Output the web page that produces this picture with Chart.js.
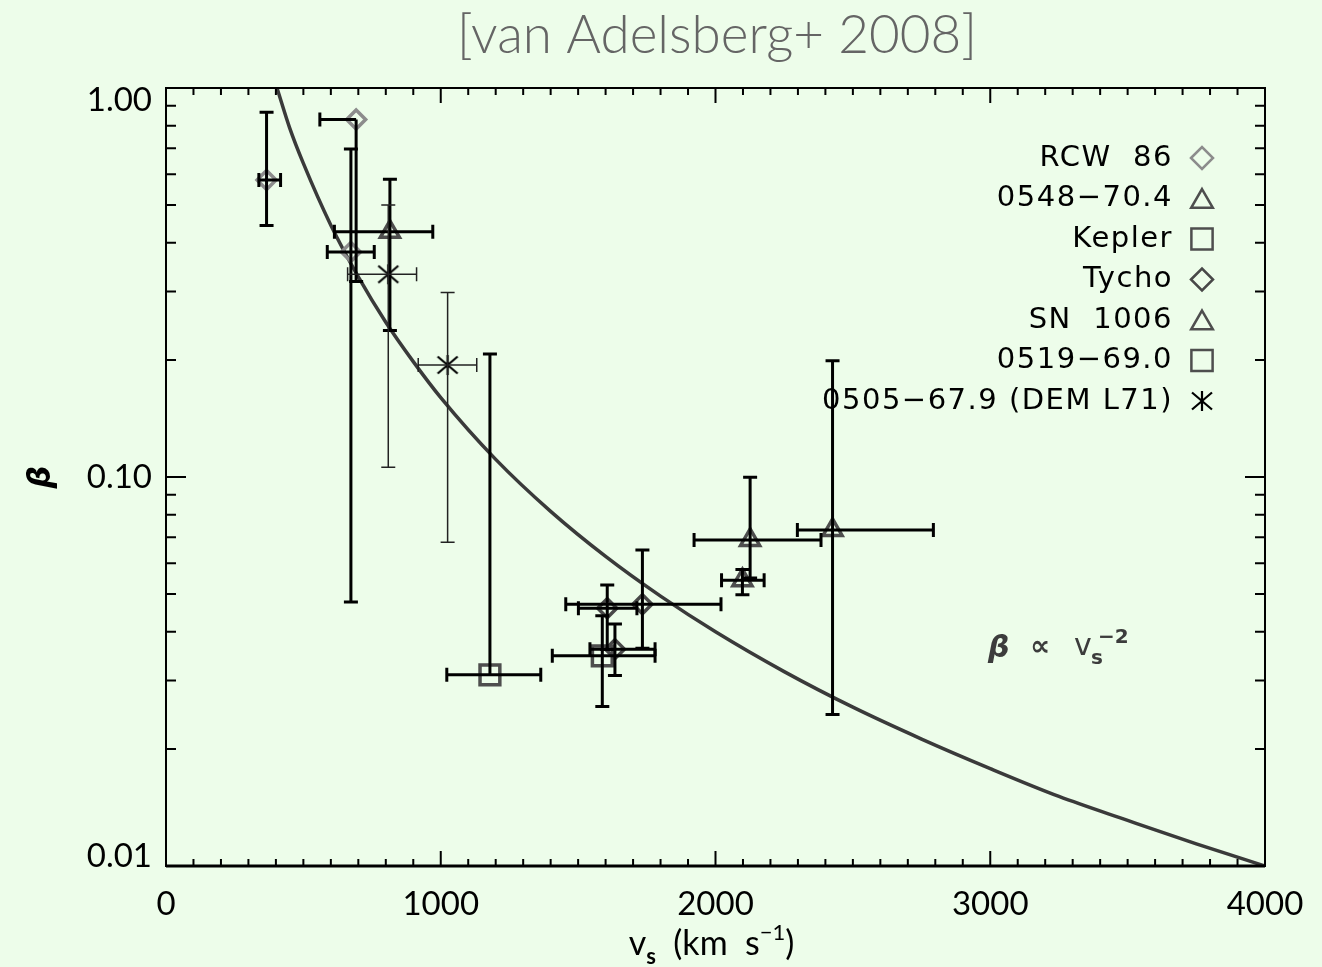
<!DOCTYPE html>
<html>
<head>
<meta charset="utf-8">
<script src="https://cdn.jsdelivr.net/npm/chart.js@4.4.0/dist/chart.umd.min.js"></script>
<style>
  html, body { margin: 0; padding: 0; background: #edfdea; }
</style>
</head>
<body>
<canvas id="betaChart" width="1322" height="967"></canvas>
<script>
// axis ticks
var xTicks = [0, 1000, 2000, 3000, 4000];
var yTicks = [0.01, 0.1, 1];
var xMinor = [];
for (var i = 100; i < 4000; i += 100) { if (i % 1000) xMinor.push(i); }
var yMinor = [0.02, 0.03, 0.04, 0.05, 0.06, 0.07, 0.08, 0.09, 0.2, 0.3, 0.4, 0.5, 0.6, 0.7, 0.8, 0.9];

// each row: [v_s, beta, v_low, v_high, beta_low, beta_high]
var rcw86 = [
  [366, 0.58, 338, 417, 0.443, 0.866],
  [692, 0.83, 560, 692, 0.318, 0.83],
  [673, 0.379, 587, 758, 0.0477, 0.697]
];
var snr0548 = [
  [815, 0.427, 613, 971, 0.238, 0.583]
];
var kepler = [
  [1179, 0.031, 1022, 1364, 0.031, 0.207]
];
var tycho = [
  [1606, 0.046, 1501, 1714, 0.036, 0.0528],
  [1734, 0.0471, 1455, 2020, 0.0363, 0.0649],
  [1634, 0.0361, 1543, 1780, 0.0309, 0.0419]
];
var sn1006 = [
  [2126, 0.0689, 1922, 2384, 0.055, 0.0998],
  [2098, 0.0543, 2022, 2177, 0.0498, 0.0578],
  [2426, 0.0731, 2298, 2793, 0.0245, 0.199]
];
var snr0519 = [
  [1588, 0.0347, 1406, 1780, 0.0257, 0.044]
];
var demL71 = [
  [809, 0.332, 661, 912, 0.106, 0.5],
  [1025, 0.194, 918, 1131, 0.068, 0.298]
];

var curveV = [404, 450, 500, 600, 700, 800, 900, 1000, 1200, 1400, 1600, 1800, 2000, 2250, 2500, 2750, 3000, 3250, 3500, 3750, 4000];
var curveB = [1.0, 0.79, 0.64, 0.444, 0.327, 0.25, 0.198, 0.16, 0.111, 0.0816, 0.0625, 0.0494, 0.04, 0.0316, 0.0256, 0.0212, 0.0178, 0.0151, 0.0131, 0.0114, 0.01];

var toPoints = function(rows) {
  return rows.map(function(r) {
    return { x: r[0], y: r[1], xMin: r[2], xMax: r[3], yMin: r[4], yMax: r[5] };
  });
};

// six-armed star for DEM L71
var makeAsterisk = function(h, lw) {
  var c = document.createElement('canvas');
  c.width = c.height = 2 * h + 4;
  var g = c.getContext('2d');
  var m = h + 2;
  g.strokeStyle = '#000';
  g.lineWidth = lw;
  g.beginPath();
  g.moveTo(m, m - h); g.lineTo(m, m + h);
  g.moveTo(m - h, m - h * 0.85); g.lineTo(m + h, m + h * 0.85);
  g.moveTo(m - h, m + h * 0.85); g.lineTo(m + h, m - h * 0.85);
  g.stroke();
  return c;
};
var starPlot = makeAsterisk(10, 2.2);
var starLegend = makeAsterisk(10, 2.2);

var series = [
  { label: 'RCW  86', rows: rcw86, style: 'rectRot', radius: 9.5, legendRadius: 11, color: '#8c8c8c', bar: 3 },
  { label: '0548\u221270.4', rows: snr0548, style: 'triangle', radius: 11, legendRadius: 12.5, color: '#4e4e4e', bar: 3 },
  { label: 'Kepler', rows: kepler, style: 'rect', radius: 14, legendRadius: 15, color: '#4e4e4e', bar: 3 },
  { label: 'Tycho', rows: tycho, style: 'rectRot', radius: 9.5, legendRadius: 11, color: '#484848', bar: 3 },
  { label: 'SN  1006', rows: sn1006, style: 'triangle', radius: 11, legendRadius: 12.5, color: '#4e4e4e', bar: 3 },
  { label: '0519\u221269.0', rows: snr0519, style: 'rect', radius: 14, legendRadius: 15, color: '#4e4e4e', bar: 3 },
  { label: '0505\u221267.9 (DEM L71)', rows: demL71, style: starPlot, legendStyle: starLegend, radius: 10, legendRadius: 10, color: '#000', bar: 1.5 }
];

var datasets = [{
  type: 'line',
  label: 'curve',
  data: curveV.map(function(v, i) { return { x: v, y: curveB[i] }; }),
  borderColor: '#3a3a3a',
  borderWidth: 3.5,
  pointRadius: 0,
  cubicInterpolationMode: 'monotone',
  fill: false,
  order: 10
}];
series.forEach(function(s) {
  datasets.push({
    type: 'scatter',
    label: s.label,
    data: toPoints(s.rows),
    pointStyle: s.style,
    pointRadius: s.radius,
    pointHoverRadius: s.radius,
    pointBorderWidth: 3.5,
    pointBorderColor: s.color,
    pointBackgroundColor: 'rgba(0,0,0,0)',
    errorWidth: s.bar,
    legendStyle: s.legendStyle || s.style,
    legendRadius: s.legendRadius,
    order: 1
  });
});

// error bars on top of the symbols
var errorBars = {
  id: 'errorBars',
  afterDatasetsDraw: function(chart) {
    var ctx = chart.ctx, x = chart.scales.x, y = chart.scales.y;
    chart.data.datasets.forEach(function(ds) {
      if (ds.type !== 'scatter') return;
      var cap = 7;
      ctx.save();
      ctx.strokeStyle = ds.errorWidth < 2 ? '#222' : '#000';
      ctx.lineWidth = ds.errorWidth;
      ds.data.forEach(function(p) {
        var px = x.getPixelForValue(p.x), py = y.getPixelForValue(p.y);
        var x0 = x.getPixelForValue(p.xMin), x1 = x.getPixelForValue(p.xMax);
        var y0 = y.getPixelForValue(p.yMin), y1 = y.getPixelForValue(p.yMax);
        ctx.beginPath();
        ctx.moveTo(x0, py); ctx.lineTo(x1, py);
        if (p.xMin < p.x) { ctx.moveTo(x0, py - cap); ctx.lineTo(x0, py + cap); }
        if (p.xMax > p.x) { ctx.moveTo(x1, py - cap); ctx.lineTo(x1, py + cap); }
        ctx.moveTo(px, y0); ctx.lineTo(px, y1);
        if (p.yMin < p.y) { ctx.moveTo(px - cap, y0); ctx.lineTo(px + cap, y0); }
        if (p.yMax > p.y) { ctx.moveTo(px - cap, y1); ctx.lineTo(px + cap, y1); }
        ctx.stroke();
      });
      ctx.restore();
    });
  }
};

// box, inward ticks, tick labels, titles and legend
var frame = {
  id: 'frame',
  afterDraw: function(chart) {
    var ctx = chart.ctx, a = chart.chartArea, x = chart.scales.x, y = chart.scales.y;
    ctx.save();
    ctx.strokeStyle = '#000';
    ctx.lineWidth = 2;
    ctx.beginPath();
    xTicks.forEach(function(v) {
      var px = x.getPixelForValue(v);
      ctx.moveTo(px, a.bottom); ctx.lineTo(px, a.bottom - 15);
      ctx.moveTo(px, a.top); ctx.lineTo(px, a.top + 15);
    });
    xMinor.forEach(function(v) {
      var px = x.getPixelForValue(v);
      ctx.moveTo(px, a.bottom); ctx.lineTo(px, a.bottom - 7);
      ctx.moveTo(px, a.top); ctx.lineTo(px, a.top + 7);
    });
    yTicks.forEach(function(v) {
      var py = y.getPixelForValue(v);
      ctx.moveTo(a.left, py); ctx.lineTo(a.left + 20, py);
      ctx.moveTo(a.right, py); ctx.lineTo(a.right - 20, py);
    });
    yMinor.forEach(function(v) {
      var py = y.getPixelForValue(v);
      ctx.moveTo(a.left, py); ctx.lineTo(a.left + 10, py);
      ctx.moveTo(a.right, py); ctx.lineTo(a.right - 10, py);
    });
    ctx.stroke();
    ctx.strokeRect(a.left, a.top, a.right - a.left, a.bottom - a.top);
    ctx.lineWidth = 3;
    ctx.beginPath();
    ctx.moveTo(a.left, a.bottom); ctx.lineTo(a.right, a.bottom);
    ctx.stroke();

    // tick labels
    ctx.fillStyle = '#000';
    ctx.font = '33px Lato';
    ctx.textAlign = 'center';
    ctx.textBaseline = 'middle';
    x.ticks.forEach(function(t) {
      ctx.fillText(String(t.value), x.getPixelForValue(t.value), a.bottom + 38);
    });
    ctx.textAlign = 'right';
    y.ticks.forEach(function(t) {
      var py = Math.min(Math.max(y.getPixelForValue(t.value), a.top + 12), a.bottom - 10);
      ctx.fillText(t.value.toFixed(2), a.left - 14, py);
    });

    // axis titles
    ctx.textAlign = 'left';
    ctx.textBaseline = 'alphabetic';
    var xs = [['v', 0, '34px Lato'], ['s', 9, 'bold 22px Lato'], ['  (km  s', 0, '34px Lato'], ['\u22121', -15, '22px Lato'], [')', 0, '34px Lato']];
    var w = 0;
    xs.forEach(function(s) { ctx.font = s[2]; w += ctx.measureText(s[0]).width; });
    var cx = (a.left + a.right) / 2 - w / 2 - 4;
    xs.forEach(function(s) {
      ctx.font = s[2];
      ctx.fillText(s[0], cx, 955 + s[1]);
      cx += ctx.measureText(s[0]).width;
    });

    ctx.save();
    ctx.translate(50, (a.top + a.bottom) / 2);
    ctx.rotate(-Math.PI / 2);
    ctx.textAlign = 'center';
    ctx.font = 'bold italic 32px "DejaVu Sans"';
    ctx.fillText('\u03b2', 0, 0);
    ctx.restore();

    ctx.fillStyle = '#656565';
    ctx.font = '300 53px Lato';
    ctx.textAlign = 'center';
    ctx.fillText('[van Adelsberg+ 2008]', 717, 53);

    // proportionality note
    ctx.fillStyle = '#3c3c3c';
    ctx.textAlign = 'left';
    ctx.font = 'bold italic 30px "DejaVu Sans"';
    ctx.fillText('\u03b2', 988, 657);
    ctx.font = 'bold 28px "DejaVu Sans"';
    ctx.fillText('\u221d', 1030, 655);
    ctx.font = '30px "DejaVu Sans"';
    ctx.fillText('v', 1074, 655);
    ctx.font = 'bold 20px "DejaVu Sans"';
    ctx.fillText('s', 1091, 664);
    ctx.fillText('\u22122', 1098, 643);

    // legend: text right aligned, symbol after it
    ctx.textAlign = 'right';
    ctx.textBaseline = 'middle';
    var row = 0;
    chart.data.datasets.forEach(function(ds) {
      if (ds.type !== 'scatter') return;
      var ly = 158 + row * 40.5;
      ctx.font = '29px "DejaVu Sans"';
      ctx.letterSpacing = '1.5px';
      ctx.fillStyle = '#000';
      ctx.fillText(ds.label, 1173, ly);
      ctx.letterSpacing = '0px';
      ctx.strokeStyle = ds.pointBorderColor;
      ctx.fillStyle = 'rgba(0,0,0,0)';
      ctx.lineWidth = 2.5;
      Chart.helpers.drawPoint(ctx, {
        pointStyle: ds.legendStyle,
        radius: ds.legendRadius,
        rotation: 0,
        borderWidth: 2.5
      }, 1202, ds.legendStyle === 'triangle' ? ly + 3 : ly);
      row++;
    });
    ctx.restore();
  }
};

var ctx = document.getElementById('betaChart').getContext('2d');
var betaChart = new Chart(ctx, {
  data: { datasets: datasets },
  plugins: [errorBars, frame],
  options: {
    responsive: false,
    animation: false,
    devicePixelRatio: 1,
    layout: { padding: { top: 88, right: 57, left: 0, bottom: 0 } },
    plugins: { legend: { display: false }, tooltip: { enabled: false } },
    scales: {
      x: {
        type: 'linear',
        min: 0,
        max: 4000,
        grid: { display: false },
        border: { display: false },
        ticks: { display: false },
        afterBuildTicks: function(s) { s.ticks = xTicks.map(function(v) { return { value: v }; }); },
        afterFit: function(s) { s.height = 101; }
      },
      y: {
        type: 'logarithmic',
        min: 0.01,
        max: 1,
        grid: { display: false },
        border: { display: false },
        ticks: { display: false },
        afterBuildTicks: function(s) { s.ticks = yTicks.map(function(v) { return { value: v }; }); },
        afterFit: function(s) { s.width = 166; }
      }
    }
  }
});
</script>
</body>
</html>
